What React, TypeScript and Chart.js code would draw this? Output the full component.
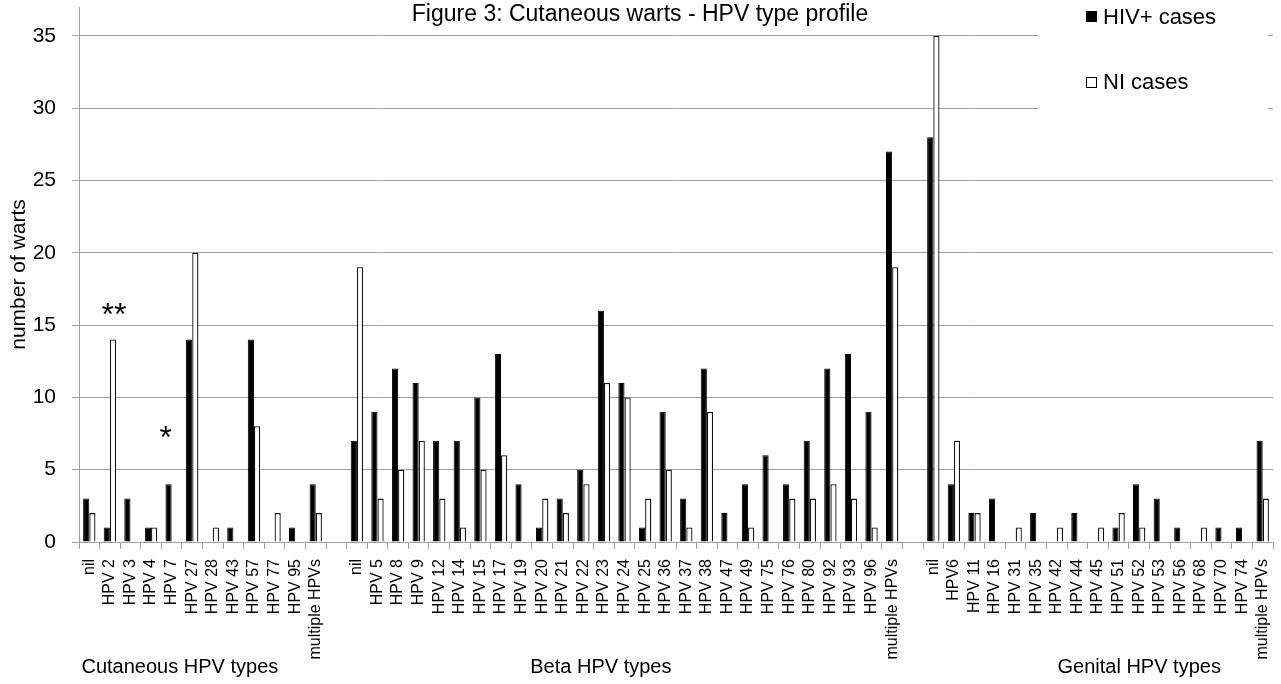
import React, { useEffect, useRef } from 'react';
import { Chart, registerables } from 'chart.js';

Chart.register(...registerables);

const FONT = '"Liberation Sans", Arial, Helvetica, sans-serif';

const chartTitle = 'Figure 3: Cutaneous warts - HPV type profile';
const yAxisTitle = 'number of warts';
const seriesNames = ['HIV+ cases', 'NI cases'];
const groupLabels = ['Cutaneous HPV types', 'Beta HPV types', 'Genital HPV types'];

const cutaneousTypes = ['nil', 'HPV 2', 'HPV 3', 'HPV 4', 'HPV 7', 'HPV 27', 'HPV 28', 'HPV 43', 'HPV 57', 'HPV 77', 'HPV 95', 'multiple HPVs'];
const cutaneousHiv = [3, 1, 3, 1, 4, 14, 0, 1, 14, 0, 1, 4];
const cutaneousNi = [2, 14, 0, 1, 0, 20, 1, 0, 8, 2, 0, 2];

const betaTypes = ['nil', 'HPV 5', 'HPV 8', 'HPV 9', 'HPV 12', 'HPV 14', 'HPV 15', 'HPV 17', 'HPV 19', 'HPV 20', 'HPV 21', 'HPV 22', 'HPV 23', 'HPV 24', 'HPV 25', 'HPV 36', 'HPV 37', 'HPV 38', 'HPV 47', 'HPV 49', 'HPV 75', 'HPV 76', 'HPV 80', 'HPV 92', 'HPV 93', 'HPV 96', 'multiple HPVs'];
const betaHiv = [7, 9, 12, 11, 7, 7, 10, 13, 4, 1, 3, 5, 16, 11, 1, 9, 3, 12, 2, 4, 6, 4, 7, 12, 13, 9, 27];
const betaNi = [19, 3, 5, 7, 3, 1, 5, 6, 0, 3, 2, 4, 11, 10, 3, 5, 1, 9, 0, 1, 0, 3, 3, 4, 3, 1, 19];

const genitalTypes = ['nil', 'HPV6', 'HPV 11', 'HPV 16', 'HPV 31', 'HPV 35', 'HPV 42', 'HPV 44', 'HPV 45', 'HPV 51', 'HPV 52', 'HPV 53', 'HPV 56', 'HPV 68', 'HPV 70', 'HPV 74', 'multiple HPVs'];
const genitalHiv = [28, 4, 2, 3, 0, 2, 0, 2, 0, 1, 4, 3, 1, 0, 1, 1, 7];
const genitalNi = [35, 7, 2, 0, 1, 0, 1, 0, 1, 2, 1, 0, 0, 1, 0, 0, 3];

const yTickValues = [0, 5, 10, 15, 20, 25, 30, 35];

// significance marks: [text, category index, y value]
const significanceMarks: [string, number, number][] = [
  ['**', 1, 15],
  ['*', 4, 6.5],
];

// combined axis (blank spacer category between groups)
const categories = [...cutaneousTypes, '', ...betaTypes, '', ...genitalTypes];
const hivValues = [...cutaneousHiv, null, ...betaHiv, null, ...genitalHiv];
const niValues = [...cutaneousNi, null, ...betaNi, null, ...genitalNi];

const GRID = '#a0a0a0';

const decorPlugin = {
  id: 'decor',
  afterDraw(chart: any) {
    const ctx = chart.ctx as CanvasRenderingContext2D;
    const xs = chart.scales.x;
    const ys = chart.scales.y;
    const area = chart.chartArea;
    ctx.save();

    // title
    ctx.fillStyle = '#000';
    ctx.font = `23px ${FONT}`;
    ctx.textAlign = 'center';
    ctx.textBaseline = 'alphabetic';
    ctx.fillText(chartTitle, 640, 21);

    // y axis title
    ctx.save();
    ctx.translate(19, (area.top + area.bottom) / 2);
    ctx.rotate(-Math.PI / 2);
    ctx.font = `21px ${FONT}`;
    ctx.textAlign = 'center';
    ctx.textBaseline = 'middle';
    ctx.fillText(yAxisTitle, 0, 0);
    ctx.restore();

    // legend box
    ctx.fillStyle = '#fff';
    ctx.fillRect(1038, 0, 230, 114);
    ctx.font = `22px ${FONT}`;
    ctx.textAlign = 'left';
    ctx.textBaseline = 'middle';
    ctx.fillStyle = '#000';
    ctx.fillRect(1086, 11, 11, 11);
    ctx.fillText(seriesNames[0], 1103, 18);
    ctx.strokeStyle = '#000';
    ctx.lineWidth = 1;
    ctx.strokeRect(1086.5, 77.5, 10, 10);
    ctx.fillText(seriesNames[1], 1103, 83);

    // group labels
    const groupPos = [4.4, 24.85, 51];
    ctx.font = `20px ${FONT}`;
    ctx.textAlign = 'center';
    ctx.textBaseline = 'alphabetic';
    groupLabels.forEach((g, i) => {
      const px = xs.getPixelForValue(groupPos[i]);
      ctx.fillText(g, px, 673);
    });

    // significance marks
    ctx.font = `32px ${FONT}`;
    significanceMarks.forEach(([t, idx, v]) => {
      const px = xs.getPixelForValue(idx);
      const py = ys.getPixelForValue(v);
      ctx.fillText(t, px + (t.length > 1 ? 4 : -6), py);
    });

    ctx.restore();
  },
};

export default function App() {
  const ref = useRef<HTMLCanvasElement>(null);

  useEffect(() => {
    if (!ref.current) return;
    const chart = new Chart(ref.current, {
      type: 'bar',
      data: {
        labels: categories,
        datasets: [
          {
            label: seriesNames[0],
            data: hivValues as any,
            backgroundColor: '#000',
            borderColor: '#000',
            borderWidth: 1,
            categoryPercentage: 0.6,
            barPercentage: 1,
          },
          {
            label: seriesNames[1],
            data: niValues as any,
            backgroundColor: '#fff',
            borderColor: '#111',
            borderWidth: 1.3,
            categoryPercentage: 0.6,
            barPercentage: 1,
          },
        ],
      },
      options: {
        responsive: false,
        animation: false,
        devicePixelRatio: 1,
        layout: { padding: { top: 7, right: 8, left: 0, bottom: 0 } },
        plugins: {
          legend: { display: false },
          title: { display: false },
          tooltip: { enabled: false },
        },
        scales: {
          x: {
            type: 'category',
            offset: true,
            grid: {
              offset: true,
              drawOnChartArea: false,
              drawTicks: true,
              tickLength: 7,
              color: GRID,
            },
            border: { color: GRID, width: 1 },
            ticks: {
              autoSkip: false,
              maxRotation: 90,
              minRotation: 90,
              padding: 10,
              color: '#000',
              font: { family: FONT, size: 16 },
            },
            afterFit(scale: any) {
              scale.height = 142;
              scale.paddingLeft = 0;
              scale.paddingRight = 0;
            },
          },
          y: {
            type: 'linear',
            min: 0,
            max: 37,
            grid: { color: GRID, tickLength: 7, lineWidth: 1 },
            border: { color: GRID, width: 1 },
            ticks: {
              stepSize: 5,
              includeBounds: false,
              padding: 16,
              color: '#000',
              font: { family: FONT, size: 21 },
            },
            afterBuildTicks(scale: any) {
              scale.ticks = yTickValues.map((v) => ({ value: v }));
            },
            afterFit(scale: any) {
              scale.width = 79;
              scale.paddingTop = 0;
              scale.paddingBottom = 0;
            },
          },
        },
      },
      plugins: [decorPlugin],
    });
    return () => chart.destroy();
  }, []);

  return (
    <div style={{ position: 'absolute', left: 0, top: 0, width: 1281, height: 684, background: '#fff' }}>
      <canvas ref={ref} width={1281} height={684} style={{ display: 'block' }} />
    </div>
  );
}
